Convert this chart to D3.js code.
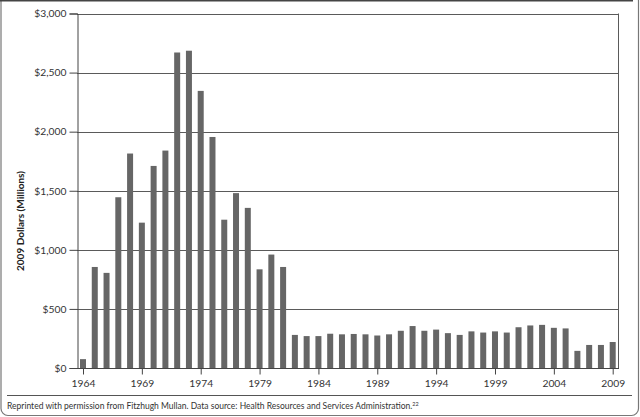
<!DOCTYPE html>
<html><head><meta charset="utf-8">
<script src="https://cdn.jsdelivr.net/npm/d3@7"></script>
<style>
body{margin:0;background:#fff;}
svg{display:block;font-family:Lato, "Open Sans", sans-serif;}
</style></head>
<body>
<svg id="chart" width="640" height="417"></svg>
<script>
const years = d3.range(1964, 2010);
const values = [75, 855, 805, 1445, 1815, 1230, 1710, 1840, 2670, 2685,
  2345, 1955, 1255, 1480, 1355, 835, 960, 855, 280, 270,
  270, 290, 285, 288, 285, 275, 285, 315, 355, 315,
  325, 295, 280, 310, 300, 310, 300, 345, 360, 365,
  340, 335, 145, 195, 195, 220];
const yTicks = [0, 500, 1000, 1500, 2000, 2500, 3000];
const xTicks = [1964, 1969, 1974, 1979, 1984, 1989, 1994, 1999, 2004, 2009];
const yTitle = "2009 Dollars (Millions)";
const footnote = "Reprinted with permission from Fitzhugh Mullan. Data source: Health Resources and Services Administration.";
const footRef = "22";

const svg = d3.select("#chart");
const plot = {left: 77, right: 618, top: 13.5, bottom: 368};
const x = d3.scaleLinear().domain([1964, 2009]).range([83, 612.7]);
const y = d3.scaleLinear().domain([0, 3000]).range([plot.bottom, plot.top]);
const barW = 6;

// outer frame
svg.append("rect").attr("x", 1).attr("y", -6).attr("width", 637.5).attr("height", 421.5)
  .attr("rx", 7).attr("fill", "none").attr("stroke", "#777").attr("stroke-width", 1.2);
svg.append("line").attr("x1", 0).attr("x2", 633).attr("y1", 0.75).attr("y2", 0.75)
  .attr("stroke", "#444").attr("stroke-width", 1.5);

// gridlines
svg.append("g").selectAll("line").data(yTicks.filter(d => d > 0)).join("line")
  .attr("x1", plot.left).attr("x2", plot.right)
  .attr("y1", d => Math.round(y(d)) + 0.5).attr("y2", d => Math.round(y(d)) + 0.5)
  .attr("stroke", "#5a5a5a").attr("stroke-width", 1);
// right border of plot
svg.append("line").attr("x1", plot.right + 0.5).attr("x2", plot.right + 0.5)
  .attr("y1", y(3000)).attr("y2", plot.bottom).attr("stroke", "#5a5a5a");

// bars
svg.append("g").selectAll("rect").data(years).join("rect")
  .attr("x", (d) => x(d) - barW / 2)
  .attr("y", (d, i) => y(values[i]))
  .attr("width", barW)
  .attr("height", (d, i) => y(0) - y(values[i]))
  .attr("fill", "#666666");

// y axis
const yAxis = svg.append("g").attr("transform", `translate(${plot.left + 0.5},0)`)
  .call(d3.axisLeft(y).tickValues(yTicks).tickSize(8).tickPadding(3)
    .tickFormat(d => "$" + d3.format(",")(d)));
yAxis.select(".domain").attr("stroke", "#444");
yAxis.selectAll(".tick line").attr("stroke", "#444");
yAxis.selectAll("text").attr("font-size", 10.3).attr("fill", "#333")
  .attr("font-family", "Lato, sans-serif");

// x axis
const xAxis = svg.append("g").attr("transform", `translate(0,${plot.bottom + 0.5})`)
  .call(d3.axisBottom(x).tickValues(xTicks).tickSize(6).tickPadding(5)
    .tickFormat(d3.format("d")));
xAxis.select(".domain").attr("d", `M${plot.left},0H${plot.right + 1}`).attr("stroke", "#444");
xAxis.selectAll(".tick line").attr("stroke", "#444");
xAxis.selectAll("text").attr("font-size", 10.3).attr("fill", "#333")
  .attr("font-family", "Lato, sans-serif");

// y title
svg.append("text").attr("transform", "translate(24,221) rotate(-90)")
  .attr("text-anchor", "middle").attr("font-size", 10).attr("font-weight", "bold")
  .attr("fill", "#222").text(yTitle);

// separator and footnote
svg.append("line").attr("x1", 7).attr("x2", 632).attr("y1", 395.5).attr("y2", 395.5)
  .attr("stroke", "#555").attr("stroke-width", 1);
const ft = svg.append("text").attr("x", 7).attr("y", 409).attr("font-size", 8.5)
  .attr("fill", "#333");
ft.append("tspan").text(footnote);
ft.append("tspan").attr("font-size", 5.5).attr("dy", -3).text(footRef);
</script>
</body></html>
